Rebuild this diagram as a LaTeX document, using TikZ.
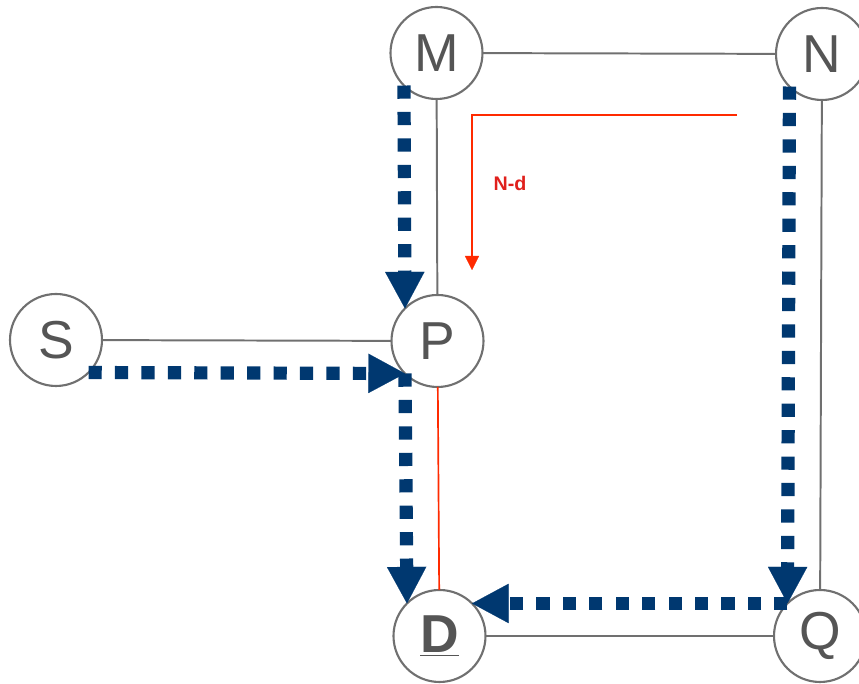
\documentclass[tikz,border=0pt]{standalone}
\usepackage{fontspec}
\setmainfont{Liberation Sans}
\usetikzlibrary{arrows.meta,positioning}
\definecolor{flowblue}{HTML}{003870}
\definecolor{edgegray}{HTML}{707070}
\definecolor{labelgray}{HTML}{555555}
\definecolor{mixred}{HTML}{FF2A00}
\definecolor{notered}{HTML}{E0201C}
\tikzset{
  rnode/.style={circle, draw=edgegray, line width=1.5pt, fill=white, text=labelgray,
                minimum size=2.3cm, inner sep=0pt, outer sep=0pt,
                font=\fontsize{38}{40}\selectfont},
  link/.style={edgegray, line width=1.4pt},
  flow/.style={-{Triangle[length=26pt,width=28pt,line width=0.1pt]}, flowblue,
               line width=9.4pt, dash pattern=on 9.4pt off 9.4pt},
  reroute/.style={-{Triangle[length=10pt,width=10pt,line width=0.1pt]}, mixred, line width=1.2pt},
}

\begin{document}
\begin{tikzpicture}[x=0.25cm,y=0.25cm]
  \useasboundingbox (0,0) rectangle (85.9,68.4);
  % routers
  \node[rnode] (M) at (43.65,63.1) {M};
  \node[rnode] (N) at (82.2,63.0) {N};
  \node[rnode] (S) at (5.6,34.4) {S};
  \node[rnode] (P) at (43.75,34.3) {P};
  \node[rnode] (D) at (43.95,4.8) {\bfseries\underline{D}};
  \node[rnode] (Q) at (82.0,4.8) {Q};
  % links
  \draw[link] (M) -- (N);
  \draw[link] (M) -- (P);
  \draw[link] (S) -- (P);
  \draw[link] (N) -- (Q);
  \draw[link] (D) -- (Q);
  \draw[mixred, line width=1.2pt] (P) -- (D);
  % reroute hint
  \coordinate (nd start) at (73.7,56.9);
  \coordinate (nd end) at (47.2,41.4);
  \draw[reroute] (nd start) -| (nd end);
  \node[text=notered, font=\bfseries\fontsize{14}{16}\selectfont] (ndlabel) at (51.0,50.1) {N-d};
  % forwarding paths
  \draw[flow] (M.south west) -- (P.north west);
  \draw[flow] (S.south east) -- (P.south west);
  \draw[flow] (P.south west) -- (D.north west);
  \draw[flow] (N.south west) -- (Q.north west);
  \draw[flow] (Q.north west) -- (D.north east);
\end{tikzpicture}
\end{document}
